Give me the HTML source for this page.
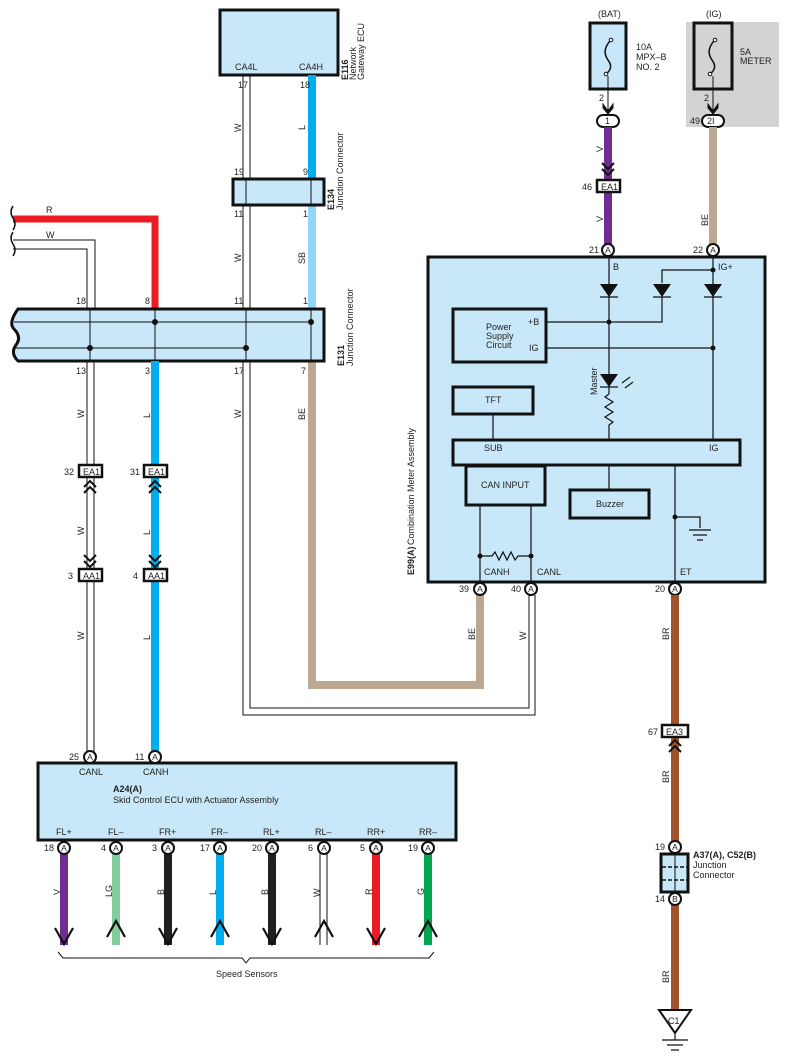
<!DOCTYPE html>
<html><head><meta charset="utf-8"><style>
html,body{margin:0;padding:0;background:#fff}
svg{display:block}
text{font-family:"Liberation Sans",sans-serif;font-size:9px;fill:#222}
.b{font-weight:bold}
</style></head><body>
<svg width="788" height="1063" viewBox="0 0 788 1063" xmlns="http://www.w3.org/2000/svg">
<defs>
<g id="ca"><circle r="6" fill="#fff" stroke="#111" stroke-width="2"/><text x="0" y="3.2" text-anchor="middle" style="font-size:8.5px">A</text></g>
<g id="cb"><circle r="6" fill="#fff" stroke="#111" stroke-width="2"/><text x="0" y="3.2" text-anchor="middle" style="font-size:8.5px">B</text></g>
<g id="dn"><path d="M-6,-5 L0,1 L6,-5 M-6,1 L0,7 L6,1" fill="none" stroke="#111" stroke-width="2"/></g>
<g id="up"><path d="M-6,5 L0,-1 L6,5 M-6,11 L0,5 L6,11" fill="none" stroke="#111" stroke-width="2"/></g>
</defs>

<rect x="686" y="22" width="93" height="105" fill="#d3d3d3"/>

<rect x="220" y="10" width="118" height="65" fill="#c8e8f9" stroke="#111" stroke-width="3"/>
<text x="235" y="70">CA4L</text><text x="299" y="70">CA4H</text>
<g transform="translate(348,80) rotate(-90)"><text class="b" x="0" y="0">E116</text><text x="0" y="8">Network</text><text x="0" y="16">Gateway ECU</text></g>

<path d="M243,75 V715 H535 V595" fill="none" stroke="#111" stroke-width="1"/>
<path d="M250,75 V708 H529 V595" fill="none" stroke="#111" stroke-width="1"/>
<rect x="308" y="75" width="8" height="104" fill="#00aeef"/>
<rect x="308" y="205" width="8" height="104" fill="#8fd6f7"/>
<path d="M312,361 V685 H480 V595" fill="none" stroke="#bca793" stroke-width="8"/>
<text x="238" y="88">17</text><text x="300" y="88">18</text>
<text transform="translate(241,132) rotate(-90)">W</text>
<text transform="translate(305,130) rotate(-90)">L</text>
<text x="234" y="175">19</text><text x="303" y="175">9</text>

<rect x="233" y="179" width="91" height="26" fill="#c8e8f9" stroke="#111" stroke-width="3"/>
<line x1="246" y1="179" x2="246" y2="205" stroke="#111"/><line x1="311" y1="179" x2="311" y2="205" stroke="#111"/>
<g transform="translate(334,210) rotate(-90)"><text class="b" x="0" y="0">E134</text><text x="0" y="9">Junction Connector</text></g>
<text x="234" y="217">11</text><text x="303" y="217">1</text>
<text transform="translate(241,262) rotate(-90)">W</text>
<text transform="translate(305,264) rotate(-90)">SB</text>
<text x="234" y="304">11</text><text x="303" y="304">1</text>

<path d="M13,219 H155 V309" fill="none" stroke="#ed1c24" stroke-width="7"/>
<path d="M13,240 H95 V309 M13,249 H87 V309" fill="none" stroke="#111" stroke-width="1"/>
<path d="M13,206 q-4,6 0,12 q4,6 0,12 M13,232 q-4,6 0,12 q4,6 0,12" fill="none" stroke="#111" stroke-width="1.5"/>
<text x="46" y="213">R</text><text x="46" y="238">W</text>
<text x="76" y="304">18</text><text x="145" y="304">8</text>

<path d="M18,309 H324 V361 H18 q-8,-8 -2,-16 q6,-8 -2,-16 q-6,-6 4,-20 Z" fill="#c8e8f9" stroke="#111" stroke-width="3"/>
<line x1="14" y1="322" x2="311" y2="322" stroke="#111"/>
<line x1="14" y1="348" x2="246" y2="348" stroke="#111"/>
<line x1="90" y1="309" x2="90" y2="361" stroke="#111"/><line x1="155" y1="309" x2="155" y2="361" stroke="#111"/>
<line x1="246" y1="309" x2="246" y2="361" stroke="#111"/><line x1="311" y1="309" x2="311" y2="361" stroke="#111"/>
<circle cx="155" cy="322" r="3" fill="#111"/><circle cx="311" cy="322" r="3" fill="#111"/>
<circle cx="90" cy="348" r="3" fill="#111"/><circle cx="246" cy="348" r="3" fill="#111"/>
<g transform="translate(344,366) rotate(-90)"><text class="b" x="0" y="0">E131</text><text x="0" y="9">Junction Connector</text></g>
<text x="76" y="374">13</text><text x="145" y="374">3</text><text x="234" y="374">17</text><text x="301" y="374">7</text>

<path d="M87,361 V757 M94,361 V757" stroke="#111" stroke-width="1"/>
<rect x="151" y="361" width="8" height="396" fill="#00aeef"/>
<text transform="translate(84,418) rotate(-90)">W</text>
<text transform="translate(150,418) rotate(-90)">L</text>
<text transform="translate(241,418) rotate(-90)">W</text>
<text transform="translate(305,420) rotate(-90)">BE</text>
<text transform="translate(84,535) rotate(-90)">W</text>
<text transform="translate(150,535) rotate(-90)">L</text>
<text transform="translate(84,640) rotate(-90)">W</text>
<text transform="translate(150,640) rotate(-90)">L</text>
<text transform="translate(475,640) rotate(-90)">BE</text>
<text transform="translate(526,640) rotate(-90)">W</text>

<rect x="79" y="465" width="23" height="12" fill="#fff" stroke="#111" stroke-width="2.5"/><text x="83" y="475">EA1</text><text x="64" y="475">32</text>
<rect x="144" y="465" width="23" height="12" fill="#fff" stroke="#111" stroke-width="2.5"/><text x="148" y="475">EA1</text><text x="130" y="475">31</text>
<use href="#up" x="90" y="482"/><use href="#up" x="155" y="482"/>
<use href="#dn" x="90" y="560"/><use href="#dn" x="155" y="560"/>
<rect x="79" y="569" width="23" height="12" fill="#fff" stroke="#111" stroke-width="2.5"/><text x="83" y="579">AA1</text><text x="68" y="579">3</text>
<rect x="144" y="569" width="23" height="12" fill="#fff" stroke="#111" stroke-width="2.5"/><text x="148" y="579">AA1</text><text x="133" y="579">4</text>

<rect x="38" y="763" width="418" height="77" fill="#c8e8f9" stroke="#111" stroke-width="3"/>
<use href="#ca" x="90" y="757"/><use href="#ca" x="155" y="757"/>
<text x="69" y="760">25</text><text x="135" y="760">11</text>
<text x="79" y="775">CANL</text><text x="143" y="775">CANH</text>
<text class="b" x="113" y="792">A24(A)</text>
<text x="113" y="803">Skid Control ECU with Actuator Assembly</text>
<text x="56" y="835">FL+</text><text x="108" y="835">FL–</text><text x="159" y="835">FR+</text><text x="211" y="835">FR–</text>
<text x="263" y="835">RL+</text><text x="315" y="835">RL–</text><text x="367" y="835">RR+</text><text x="419" y="835">RR–</text>

<rect x="60" y="853" width="8" height="92" fill="#6f2c91"/>
<rect x="112" y="853" width="8" height="92" fill="#80cc9a"/>
<rect x="164" y="853" width="8" height="92" fill="#231f20"/>
<rect x="216" y="853" width="8" height="92" fill="#00aeef"/>
<rect x="268" y="853" width="8" height="92" fill="#231f20"/>
<path d="M320,853 V945 M327,853 V945" stroke="#111"/>
<rect x="372" y="853" width="8" height="92" fill="#ed1c24"/>
<rect x="424" y="853" width="8" height="92" fill="#00a651"/>
<g fill="none" stroke="#111" stroke-width="2.2">
<path d="M55,928 L64,944 L73,928"/><path d="M107,937 L116,921 L125,937"/><path d="M159,928 L168,944 L177,928"/>
<path d="M211,937 L220,921 L229,937"/><path d="M263,928 L272,944 L281,928"/><path d="M315,937 L324,921 L333,937"/>
<path d="M367,928 L376,944 L385,928"/><path d="M419,937 L428,921 L437,937"/>
</g>
<use href="#ca" x="64" y="848"/><use href="#ca" x="116" y="848"/><use href="#ca" x="168" y="848"/><use href="#ca" x="220" y="848"/>
<use href="#ca" x="272" y="848"/><use href="#ca" x="324" y="848"/><use href="#ca" x="376" y="848"/><use href="#ca" x="428" y="848"/>
<text x="44" y="851">18</text><text x="101" y="851">4</text><text x="152" y="851">3</text><text x="200" y="851">17</text>
<text x="252" y="851">20</text><text x="308" y="851">6</text><text x="360" y="851">5</text><text x="408" y="851">19</text>
<text transform="translate(60,895) rotate(-90)">V</text><text transform="translate(112,897) rotate(-90)">LG</text>
<text transform="translate(164,895) rotate(-90)">B</text><text transform="translate(216,895) rotate(-90)">L</text>
<text transform="translate(268,895) rotate(-90)">B</text><text transform="translate(320,897) rotate(-90)">W</text>
<text transform="translate(372,895) rotate(-90)">R</text><text transform="translate(424,895) rotate(-90)">G</text>
<path d="M58,952 L63,958 H242 L246,963 L250,958 H429 L434,952" fill="none" stroke="#111" stroke-width="1"/>
<text x="216" y="977">Speed Sensors</text>

<text x="598" y="17">(BAT)</text><text x="706" y="17">(IG)</text>
<rect x="590" y="23" width="36" height="66" fill="#c8e8f9" stroke="#111" stroke-width="3"/>
<rect x="694" y="23" width="38" height="66" fill="#d3d3d3" stroke="#111" stroke-width="3"/>
<path d="M611,40 q-10,10 -3,20 q6,8 -2,14 M715,40 q-10,10 -3,20 q6,8 -2,14" fill="none" stroke="#111" stroke-width="1.5"/>
<circle cx="611" cy="40" r="1.8" fill="#fff" stroke="#111"/><circle cx="606" cy="74" r="1.8" fill="#fff" stroke="#111"/>
<circle cx="715" cy="40" r="1.8" fill="#fff" stroke="#111"/><circle cx="710" cy="74" r="1.8" fill="#fff" stroke="#111"/>
<text x="636" y="50">10A</text><text x="636" y="60">MPX–B</text><text x="636" y="70">NO. 2</text>
<text x="740" y="55">5A</text><text x="740" y="64">METER</text>
<path d="M608,76 V112 M713,76 V112" stroke="#111"/>
<text x="599" y="101">2</text><text x="704" y="101">2</text>
<path d="M603,104 L608,111 L613,104 L613,108 L608,114 L603,108Z M708,104 L713,111 L718,104 L718,108 L713,114 L708,108Z" fill="#111" stroke="#111"/>
<rect x="597" y="115" width="22" height="12" rx="6" fill="#fff" stroke="#111" stroke-width="2"/><text x="605" y="124">1</text>
<rect x="702" y="115" width="22" height="12" rx="6" fill="#fff" stroke="#111" stroke-width="2"/><text x="707" y="124">2I</text>
<text x="690" y="124">49</text>
<rect x="604" y="127" width="8" height="122" fill="#6f2c91"/>
<rect x="709" y="127" width="8" height="122" fill="#bca793"/>
<text transform="translate(603,152) rotate(-90)">V</text>
<text transform="translate(603,222) rotate(-90)">V</text>
<text transform="translate(708,226) rotate(-90)">BE</text>
<use href="#dn" x="608" y="168"/>
<rect x="597" y="180" width="23" height="12" fill="#fff" stroke="#111" stroke-width="2.5"/><text x="601" y="190">EA1</text><text x="582" y="190">46</text>

<rect x="428" y="257" width="337" height="325" fill="#c8e8f9" stroke="#111" stroke-width="3"/>
<use href="#ca" x="608" y="250"/><use href="#ca" x="713" y="250"/>
<text x="589" y="253">21</text><text x="693" y="253">22</text>
<text x="613" y="270">B</text><text x="718" y="270">IG+</text>
<g stroke="#111" fill="none" stroke-width="1.2">
<path d="M609,257 V394 M609,430 V440 M713,257 V440 M662,297 V322 H546 M662,283 V270 H713 M546,348 H713 M493,414 V440 M609,465 V490 M675,465 V582 M675,517 H700 V528 M480,505 V582 M531,505 V582 M480,556 H492 l3,-4 l4,8 l4,-8 l4,8 l4,-8 l4,8 l3,-4 H531"/>
<path d="M689,530 H711 M693,535 H707 M697,540 H703"/>
<path d="M600,297 H618 M653,297 H671 M704,297 H722 M600,387 H618"/>
<path d="M609,394 l-4,3 l8,5 l-8,5 l8,5 l-8,5 l8,5 l-4,3 V430"/>
<path d="M622,383 l8,-6 M625,388 l8,-6"/>
</g>
<path d="M600,374 H618 L609,387Z M600,284 H618 L609,297Z M653,284 H671 L662,297Z M704,284 H722 L713,297Z" fill="#111"/>
<circle cx="609" cy="322" r="2.5" fill="#111"/><circle cx="713" cy="348" r="2.5" fill="#111"/>
<circle cx="713" cy="270" r="2.5" fill="#111"/><circle cx="675" cy="517" r="2.5" fill="#111"/>
<circle cx="480" cy="556" r="2.5" fill="#111"/><circle cx="531" cy="556" r="2.5" fill="#111"/>
<text transform="translate(597,395) rotate(-90)">Master</text>
<rect x="453" y="309" width="93" height="53" fill="#c8e8f9" stroke="#111" stroke-width="3"/>
<text x="486" y="330">Power</text><text x="486" y="339">Supply</text><text x="486" y="348">Circuit</text>
<text x="528" y="325">+B</text><text x="529" y="351">IG</text>
<rect x="453" y="387" width="80" height="27" fill="#c8e8f9" stroke="#111" stroke-width="3"/><text x="485" y="403">TFT</text>
<rect x="453" y="440" width="287" height="25" fill="#c8e8f9" stroke="#111" stroke-width="3"/>
<text x="484" y="451">SUB</text><text x="709" y="451">IG</text>
<rect x="466" y="466" width="79" height="39" fill="#c8e8f9" stroke="#111" stroke-width="3"/><text x="481" y="488">CAN INPUT</text>
<rect x="570" y="490" width="79" height="28" fill="#c8e8f9" stroke="#111" stroke-width="3"/><text x="596" y="507">Buzzer</text>
<text x="484" y="575">CANH</text><text x="537" y="575">CANL</text><text x="680" y="575">ET</text>
<g transform="translate(414,575) rotate(-90)"><text class="b" x="0" y="0">E99(A)</text><text x="30" y="0">Combination Meter Assembly</text></g>
<use href="#ca" x="480" y="589"/><use href="#ca" x="531" y="589"/><use href="#ca" x="675" y="589"/>
<text x="459" y="592">39</text><text x="511" y="592">40</text><text x="655" y="592">20</text>

<rect x="671" y="595" width="8" height="246" fill="#a0522d"/>
<rect x="671" y="905" width="8" height="105" fill="#a0522d"/>
<text transform="translate(669,640) rotate(-90)">BR</text>
<text transform="translate(669,783) rotate(-90)">BR</text>
<text transform="translate(669,983) rotate(-90)">BR</text>
<rect x="662" y="725" width="26" height="12" fill="#fff" stroke="#111" stroke-width="2.5"/><text x="666" y="735">EA3</text><text x="648" y="735">67</text>
<use href="#up" x="675" y="741"/>
<use href="#ca" x="675" y="847"/><use href="#cb" x="675" y="899"/>
<text x="655" y="850">19</text><text x="655" y="902">14</text>
<rect x="661" y="854" width="27" height="38" fill="#c8e8f9" stroke="#111" stroke-width="3"/>
<path d="M675,854 V892" stroke="#111"/><path d="M662,867 H688 M662,880 H688" stroke="#111" stroke-dasharray="4,2" stroke-width="1.5"/>
<text class="b" x="693" y="858">A37(A), C52(B)</text><text x="693" y="868">Junction</text><text x="693" y="878">Connector</text>
<path d="M659,1010 H691 L675,1033Z" fill="#fff" stroke="#111" stroke-width="2"/>
<text x="668" y="1024">C1</text>
<path d="M675,1033 V1040 M662,1040 H688 M667,1045 H683 M671,1050 H679" stroke="#111" stroke-width="1.2"/>
</svg>
</body></html>
